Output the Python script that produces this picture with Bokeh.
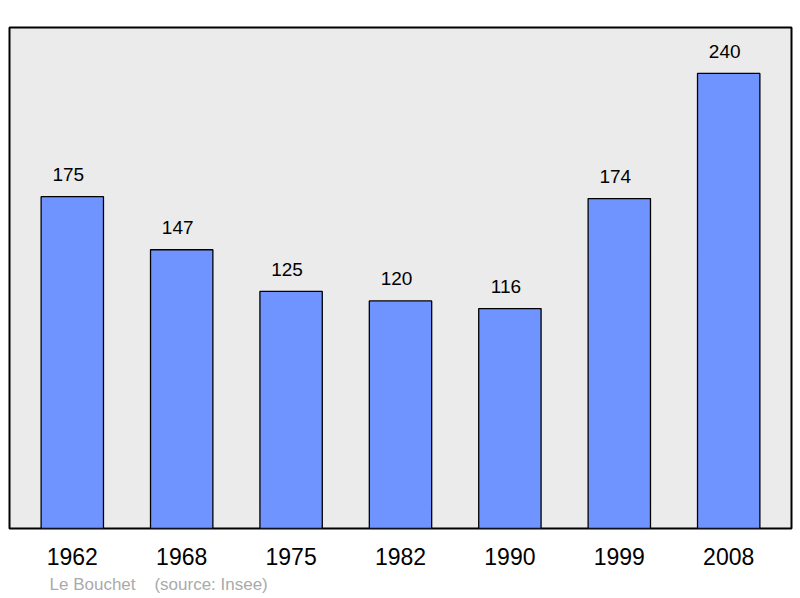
from bokeh.plotting import figure
from bokeh.models import FactorRange, Range1d, ColumnDataSource, LabelSet, Title
from bokeh.core.properties import value
from bokeh.embed import file_html
from bokeh.resources import INLINE

years = ["1962", "1968", "1975", "1982", "1990", "1999", "2008"]
population = [175, 147, 125, 120, 116, 174, 240]
value_labels = [str(v) for v in population]

src = ColumnDataSource(dict(x=years, top=population, lab=value_labels))

p = figure(width=800, height=598, output_backend="svg", toolbar_location=None,
           x_range=FactorRange(*years, range_padding=0.074, range_padding_units="absolute"),
           y_range=Range1d(0, 264.2),
           min_border_left=9, min_border_right=9, min_border_top=27, min_border_bottom=70)

p.background_fill_color = "#ebebeb"
p.border_fill_color = "white"
p.outline_line_color = "black"
p.outline_line_width = 2
p.grid.visible = False
p.yaxis.visible = False

p.vbar(x="x", top="top", bottom=0, width=0.57, source=src,
       fill_color="#7094ff", line_color="black", line_width=1.3)

labels = LabelSet(x="x", y="top", text="lab", source=src, text_align="center",
                  text_baseline="middle", x_offset=-4, y_offset=22,
                  text_font_size=value("19px"),
                  text_font=value("Liberation Sans"), text_color=value("black"))
p.add_layout(labels)

ax = p.xaxis[0]
ax.axis_line_color = None
ax.major_tick_line_color = None
ax.minor_tick_line_color = None
ax.major_label_text_font_size = "23px"
ax.major_label_text_font = "Liberation Sans"
ax.major_label_text_color = "black"
ax.major_label_standoff = 13

t = Title(text="Le Bouchet\u00a0\u00a0\u00a0\u00a0(source: Insee)", align="left",
          text_font_size="17px", text_font="Liberation Sans", text_font_style="normal",
          text_color="#aaaaaa", offset=40, standoff=10)
p.add_layout(t, "below")

open("out.html", "w").write(file_html(p, INLINE))
